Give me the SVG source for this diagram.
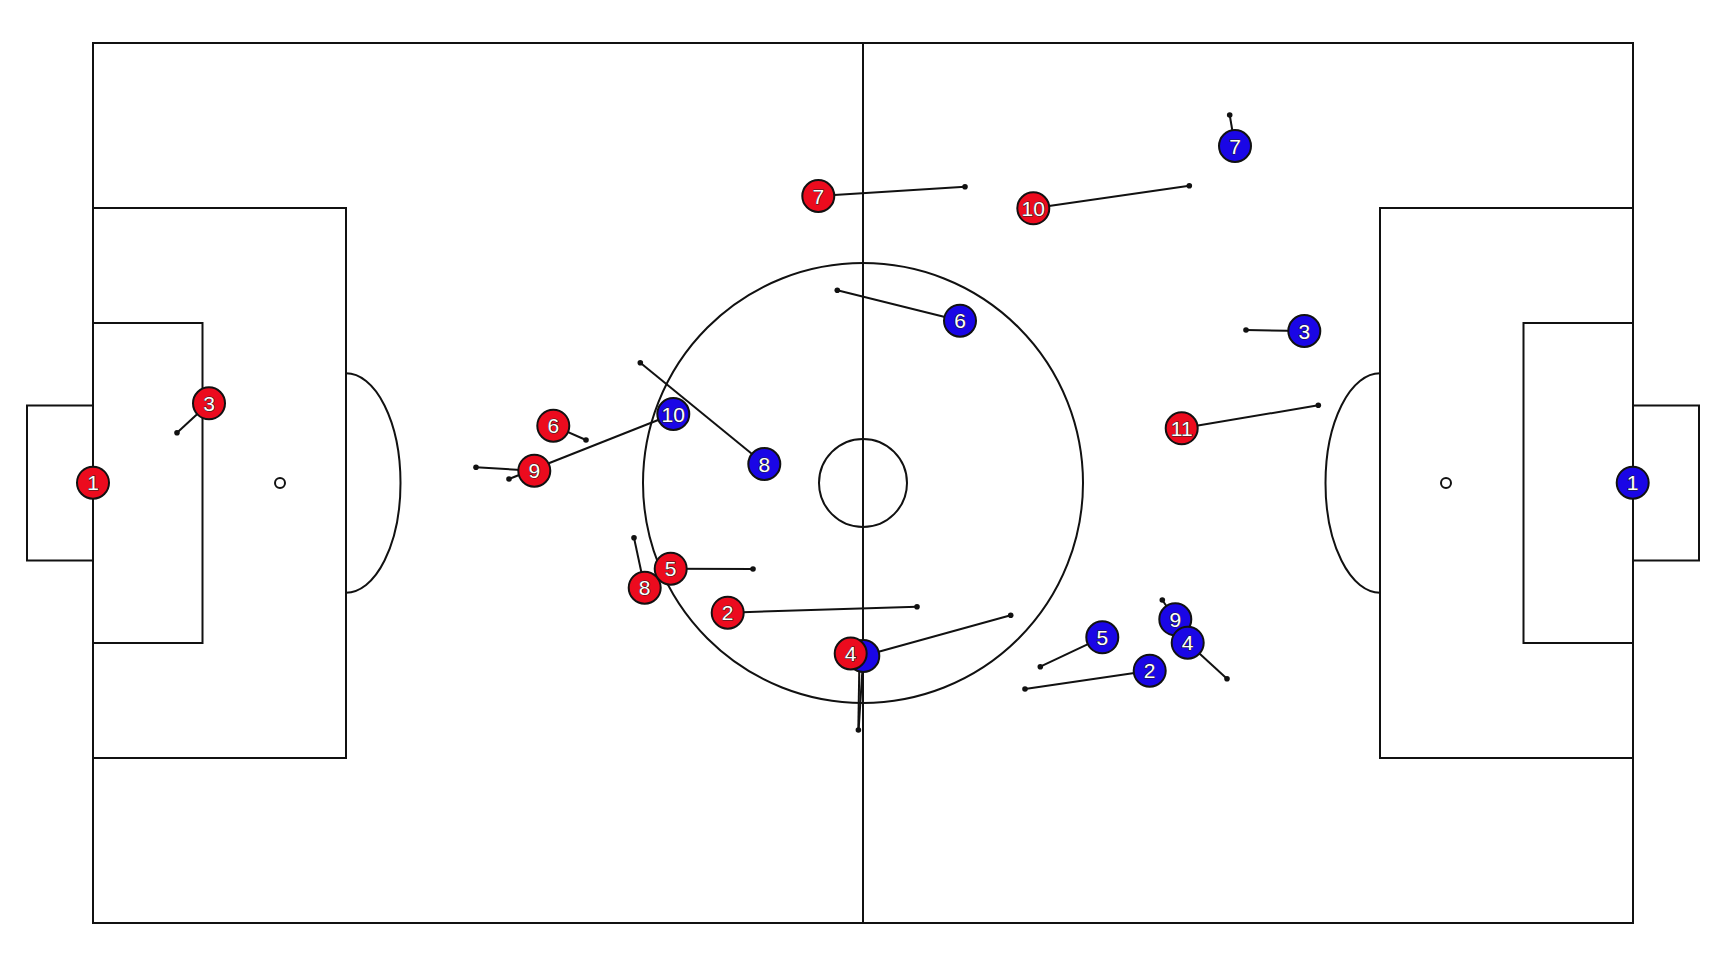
<svg xmlns="http://www.w3.org/2000/svg" width="1728" height="962" viewBox="0 0 1728 962">
<style>
.pl{fill:none;stroke:#111;stroke-width:2}
.ln{stroke:#111;stroke-width:2;fill:none}
.dt{fill:#111}
.red circle{fill:#ec0b1e;stroke:#111;stroke-width:2}
.blue circle{fill:#1a06e6;stroke:#111;stroke-width:2}
text{font-family:"Liberation Sans",Arial,sans-serif;font-size:21px;fill:#fff;stroke:#222;stroke-width:1.1;paint-order:stroke;text-anchor:middle;dominant-baseline:central}
</style>
<rect width="1728" height="962" fill="#fff"/>
<g id="pitch">
<rect class="pl" x="93" y="43" width="1540" height="880"/>
<line class="pl" x1="863" y1="43" x2="863" y2="923"/>
<circle class="pl" cx="863" cy="483" r="220"/>
<circle class="pl" cx="863" cy="483" r="44"/>
<rect class="pl" x="93" y="208" width="253" height="550"/>
<rect class="pl" x="93" y="323" width="109.5" height="320"/>
<rect class="pl" x="27" y="405.5" width="66" height="155"/>
<circle class="pl" cx="280" cy="483" r="5"/>
<path class="pl" d="M346 373.3 A54.5 109.7 0 0 1 346 592.7"/>
<rect class="pl" x="1380" y="208" width="253" height="550"/>
<rect class="pl" x="1523.5" y="323" width="109.5" height="320"/>
<rect class="pl" x="1633" y="405.5" width="66" height="155"/>
<circle class="pl" cx="1446" cy="483" r="5"/>
<path class="pl" d="M1380 373.3 A54.5 109.7 0 0 0 1380 592.7"/>
</g>
<g id="connectors">
<line class="ln" x1="209" y1="403.3" x2="177" y2="432.7"/><circle class="dt" cx="177" cy="432.7" r="2.8"/>
<line class="ln" x1="553.3" y1="425.7" x2="586" y2="440"/><circle class="dt" cx="586" cy="440" r="2.8"/>
<line class="ln" x1="534.3" y1="470.7" x2="476" y2="467.3"/><circle class="dt" cx="476" cy="467.3" r="2.8"/>
<line class="ln" x1="818.3" y1="196" x2="965" y2="186.7"/><circle class="dt" cx="965" cy="186.7" r="2.8"/>
<line class="ln" x1="670.7" y1="568.7" x2="753" y2="569"/><circle class="dt" cx="753" cy="569" r="2.8"/>
<line class="ln" x1="644.7" y1="587.7" x2="634" y2="537.7"/><circle class="dt" cx="634" cy="537.7" r="2.8"/>
<line class="ln" x1="727.7" y1="612.7" x2="917" y2="606.7"/><circle class="dt" cx="917" cy="606.7" r="2.8"/>
<line class="ln" x1="859.5" y1="655" x2="858.3" y2="730"/>
<line class="ln" x1="863.3" y1="656" x2="858.6" y2="730"/><circle class="dt" cx="858.4" cy="730" r="2.8"/>
<line class="ln" x1="1033.3" y1="208.3" x2="1189.3" y2="185.7"/><circle class="dt" cx="1189.3" cy="185.7" r="2.8"/>
<line class="ln" x1="1181.7" y1="428.3" x2="1318.3" y2="405.3"/><circle class="dt" cx="1318.3" cy="405.3" r="2.8"/>
<line class="ln" x1="1235" y1="146" x2="1229.7" y2="115"/><circle class="dt" cx="1229.7" cy="115" r="2.8"/>
<line class="ln" x1="1304.3" y1="331" x2="1246" y2="330"/><circle class="dt" cx="1246" cy="330" r="2.8"/>
<line class="ln" x1="960" y1="320.7" x2="837.3" y2="290.3"/><circle class="dt" cx="837.3" cy="290.3" r="2.8"/>
<line class="ln" x1="764.3" y1="464" x2="640.3" y2="362.7"/><circle class="dt" cx="640.3" cy="362.7" r="2.8"/>
<line class="ln" x1="673.3" y1="414" x2="509" y2="479"/><circle class="dt" cx="509" cy="479" r="2.8"/>
<line class="ln" x1="1102.3" y1="637.3" x2="1040.3" y2="666.7"/><circle class="dt" cx="1040.3" cy="666.7" r="2.8"/>
<line class="ln" x1="1149.7" y1="670.7" x2="1025" y2="689"/><circle class="dt" cx="1025" cy="689" r="2.8"/>
<line class="ln" x1="1175.3" y1="619.3" x2="1162.3" y2="600"/><circle class="dt" cx="1162.3" cy="600" r="2.8"/>
<line class="ln" x1="1187.7" y1="642.7" x2="1227" y2="678.7"/><circle class="dt" cx="1227" cy="678.7" r="2.8"/>
<line class="ln" x1="863.3" y1="656" x2="1010.7" y2="615.3"/><circle class="dt" cx="1010.7" cy="615.3" r="2.8"/>
</g>
<g class="blue">
<g id="blue-1"><circle cx="1632.7" cy="482.7" r="16"/><text x="1632.7" y="482.7">1</text></g>
<g id="blue-7"><circle cx="1235" cy="146" r="16"/><text x="1235" y="146">7</text></g>
<g id="blue-3"><circle cx="1304.3" cy="331" r="16"/><text x="1304.3" y="331">3</text></g>
<g id="blue-6"><circle cx="960" cy="320.7" r="16"/><text x="960" y="320.7">6</text></g>
<g id="blue-8"><circle cx="764.3" cy="464" r="16"/><text x="764.3" y="464">8</text></g>
<g id="blue-10"><circle cx="673.3" cy="414" r="16"/><text x="673.3" y="414">10</text></g>
<g id="blue-5"><circle cx="1102.3" cy="637.3" r="16"/><text x="1102.3" y="637.3">5</text></g>
<g id="blue-2"><circle cx="1149.7" cy="670.7" r="16"/><text x="1149.7" y="670.7">2</text></g>
<g id="blue-9"><circle cx="1175.3" cy="619.3" r="16"/><text x="1175.3" y="619.3">9</text></g>
<g id="blue-4"><circle cx="1187.7" cy="642.7" r="16"/><text x="1187.7" y="642.7">4</text></g>
<g id="blue-hidden"><circle cx="863.3" cy="656" r="16"/></g>
</g>
<g class="red">
<g id="red-1"><circle cx="93" cy="482.7" r="16"/><text x="93" y="482.7">1</text></g>
<g id="red-3"><circle cx="209" cy="403.3" r="16"/><text x="209" y="403.3">3</text></g>
<g id="red-6"><circle cx="553.3" cy="425.7" r="16"/><text x="553.3" y="425.7">6</text></g>
<g id="red-9"><circle cx="534.3" cy="470.7" r="16"/><text x="534.3" y="470.7">9</text></g>
<g id="red-7"><circle cx="818.3" cy="196" r="16"/><text x="818.3" y="196">7</text></g>
<g id="red-8"><circle cx="644.7" cy="587.7" r="16"/><text x="644.7" y="587.7">8</text></g>
<g id="red-5"><circle cx="670.7" cy="568.7" r="16"/><text x="670.7" y="568.7">5</text></g>
<g id="red-2"><circle cx="727.7" cy="612.7" r="16"/><text x="727.7" y="612.7">2</text></g>
<g id="red-4"><circle cx="850.7" cy="653.5" r="16"/><text x="850.7" y="653.5">4</text></g>
<g id="red-10"><circle cx="1033.3" cy="208.3" r="16"/><text x="1033.3" y="208.3">10</text></g>
<g id="red-11"><circle cx="1181.7" cy="428.3" r="16"/><text x="1181.7" y="428.3">11</text></g>
</g>
</svg>
